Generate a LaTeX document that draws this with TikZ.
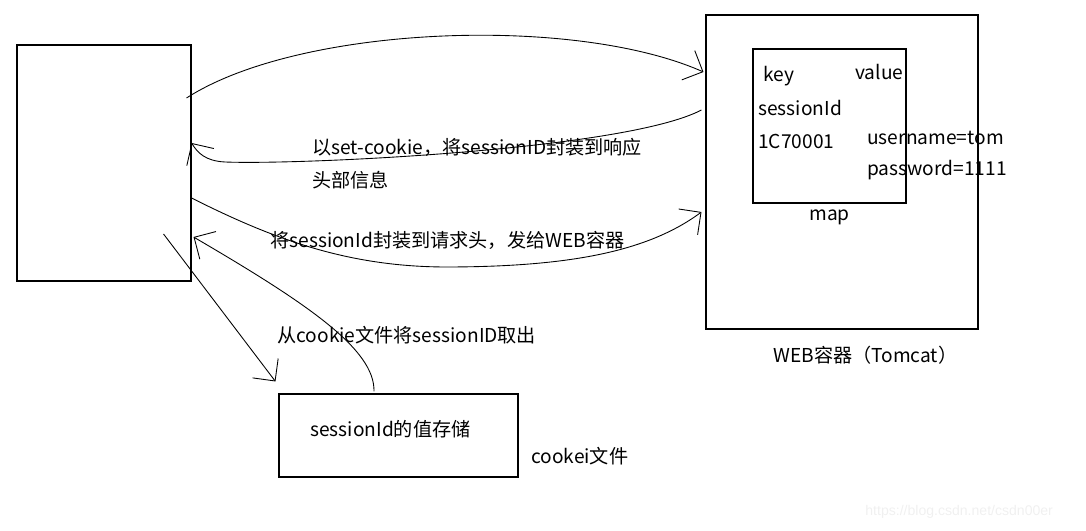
\documentclass[tikz,border=0pt]{standalone}
\usepackage{fontspec}
\setmainfont{Noto Sans CJK SC}
\newfontfamily\wmfont{Liberation Sans}
\usepackage{xcolor}
\usepackage{tikz}
\usetikzlibrary{arrows.meta, positioning, calc}

\begin{document}
\begin{tikzpicture}[
  font=\fontsize{10.9pt}{13pt}\selectfont,
  node distance=0.1cm and 0.5cm,
  box/.style={rectangle, draw=black, line width=0.6pt, inner sep=0pt},
  txt/.style={inner sep=0pt, anchor=west, align=left},
  arrow/.style={line width=0.5pt, -{Straight Barb[length=3.2mm, width=6.4mm]}}
]
\useasboundingbox (0,0) rectangle (21.72,10.6);
\node (browser) [box, minimum width=3.48cm, minimum height=4.72cm] at (2.08,7.34) {};
\node (web) [box, minimum width=5.44cm, minimum height=6.28cm] at (16.84,7.16) {};
\node (mapbox) [box, minimum width=3.06cm, minimum height=3.08cm] at (16.59,8.08) {};
\node (cookie) [box, minimum width=4.78cm, minimum height=1.66cm] at (7.97,1.89) {};
\node (key) [txt] at (15.26,9.08) {key};
\node (value) [txt] at (17.10,9.16) {value};
\node (sid) [txt] at (15.16,8.44) {sessionId};
\node (sidval) [txt] at (15.16,7.78) {1C70001};
\node (user) [txt] at (17.34,7.84) {username=tom};
\node (pass) [txt] at (17.34,7.20) {password=1111};
\node (maplabel) [below=0.12cm of mapbox, inner sep=0pt] {map};
\node (weblabel) [txt] at (15.46,3.50) {WEB容器（Tomcat）};
\node (resp) [txt, font=\fontsize{10.9pt}{18.7pt}\selectfont] at (6.24,7.33) {以set-cookie，将sessionID封装到响应\\头部信息};
\node (req) [txt] at (5.40,5.80) {将sessionId封装到请求头，发给WEB容器};
\node (fetch) [txt] at (5.54,3.90) {从cookie文件将sessionID取出};
\node (store) [txt] at (6.20,2.02) {sessionId的值存储};
\node (cookielabel) [txt] at (10.62,1.48) {cookei文件};
\node (mark) [txt, font=\wmfont\fontsize{8pt}{10pt}\selectfont, text=black!6] at (17.30,0.36) {https://blog.csdn.net/csdn00er};
% request / response between browser and container
\draw [arrow] ($(browser.east)+(-0.1,1.3)$) .. controls (6,10.1) and (11.5,10.3) .. ($(web.west)+(-0.04,2.0)$);
\draw [arrow] ($(web.west)+(-0.08,1.24)$) .. controls (12.5,7.6) and (6,7.3) .. (4.5,7.36) .. controls (4.1,7.38) and (3.95,7.55) .. ($(browser.east)+(0,0.4)$);
\draw [arrow] ($(browser.east)+(0,-0.7)$) .. controls (5.5,5.8) and (7,5.25) .. (9,5.26) .. controls (11.5,5.27) and (13,5.6) .. ($(web.west)+(-0.08,-0.8)$);
% cookie file
\draw [arrow] ($(browser.east)+(-0.56,-1.42)$) -- ($(cookie.north west)+(-0.06,0.24)$);
\draw [arrow] ($(cookie.north)+(-0.49,0.04)$) .. controls (7.5,3.6) and (6.2,4.5) .. ($(browser.east)+(0.04,-1.48)$);
\end{tikzpicture}
\end{document}
